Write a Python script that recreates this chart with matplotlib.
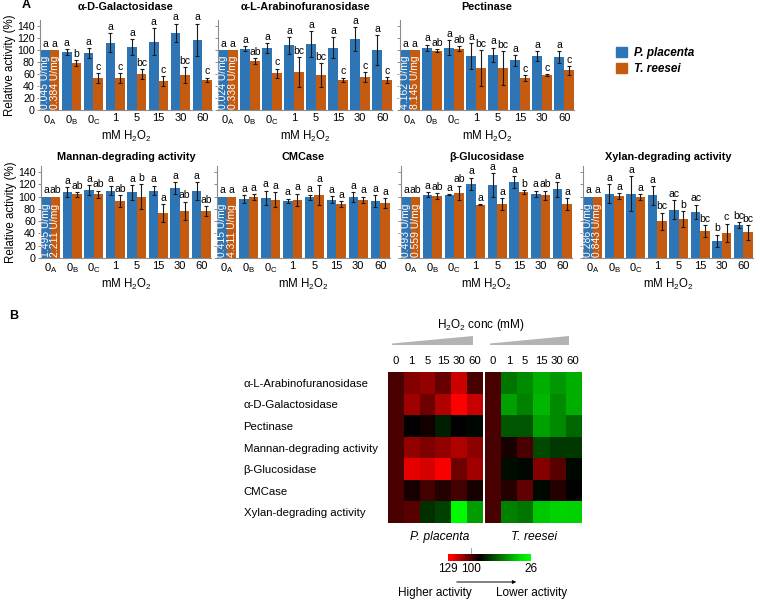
import numpy as np
import matplotlib
matplotlib.use('Agg')
import matplotlib.pyplot as plt
from matplotlib.colors import LinearSegmentedColormap, Normalize
from matplotlib.cm import ScalarMappable
from matplotlib.patches import Patch, Polygon

plt.rcParams['font.family'] = ['Liberation Sans', 'DejaVu Sans']
plt.rcParams['mathtext.fontset'] = 'custom'
plt.rcParams['mathtext.rm'] = 'Liberation Sans'
plt.rcParams['mathtext.it'] = 'Liberation Sans:italic'
plt.rcParams['mathtext.bf'] = 'Liberation Sans:bold'

# ---------------- data (relative activity, %) ----------------
doses = [r'0$_\mathrm{A}$', r'0$_\mathrm{B}$', r'0$_\mathrm{C}$', '1', '5', '15', '30', '60']

gal_pp = [100, 96, 95, 112, 105, 114, 129, 117]
gal_pp_err = [0, 5, 8, 16, 13, 22, 15, 27]
gal_tr = [100, 78, 53, 53, 60, 48, 58, 50]
gal_tr_err = [0, 5, 8, 8, 8, 8, 13, 4]
gal_pp_sig = ['a', 'a', 'a', 'a', 'a', 'a', 'a', 'a']
gal_tr_sig = ['a', 'b', 'c', 'c', 'bc', 'c', 'bc', 'c']

ara_pp = [100, 102, 103, 108, 110, 104, 118, 100]
ara_pp_err = [0, 4, 8, 14, 22, 17, 20, 25]
ara_tr = [100, 81, 61, 63, 58, 50, 55, 50]
ara_tr_err = [0, 5, 8, 25, 20, 4, 8, 5]
ara_pp_sig = ['a', 'a', 'a', 'a', 'a', 'a', 'a', 'a']
ara_tr_sig = ['a', 'ab', 'c', 'bc', 'bc', 'c', 'c', 'c']

pec_pp = [100, 104, 104, 90, 92, 83, 90, 88]
pec_pp_err = [0, 5, 12, 22, 12, 9, 8, 10]
pec_tr = [100, 99, 102, 70, 70, 53, 58, 66]
pec_tr_err = [0, 3, 4, 30, 28, 5, 2, 7]
pec_pp_sig = ['a', 'a', 'a', 'a', 'a', 'a', 'a', 'a']
pec_tr_sig = ['a', 'ab', 'ab', 'bc', 'bc', 'c', 'c', 'c']

man_pp = [100, 107, 111, 110, 107, 110, 114, 109]
man_pp_err = [0, 8, 8, 8, 12, 8, 10, 15]
man_tr = [100, 104, 104, 93, 100, 73, 77, 77]
man_tr_err = [0, 4, 6, 10, 20, 15, 15, 8]
man_pp_sig = ['a', 'a', 'a', 'a', 'a', 'a', 'a', 'a']
man_tr_sig = ['ab', 'ab', 'ab', 'ab', 'b', 'a', 'ab', 'ab']

cmc_pp = [100, 96, 98, 93, 99, 95, 99, 93]
cmc_pp_err = [0, 6, 12, 4, 4, 6, 8, 10]
cmc_tr = [100, 99, 95, 95, 103, 88, 95, 90]
cmc_tr_err = [0, 5, 12, 10, 16, 5, 5, 8]
cmc_pp_sig = ['a', 'a', 'a', 'a', 'a', 'a', 'a', 'a']
cmc_tr_sig = ['a', 'a', 'a', 'a', 'a', 'a', 'a', 'a']

glu_pp = [100, 103, 103, 121, 119, 124, 105, 112]
glu_pp_err = [0, 4, 1, 10, 20, 10, 5, 12]
glu_tr = [100, 101, 106, 87, 88, 108, 102, 88]
glu_tr_err = [0, 5, 12, 1, 10, 3, 8, 10]
glu_pp_sig = ['a', 'a', 'a', 'a', 'a', 'a', 'a', 'a']
glu_tr_sig = ['ab', 'ab', 'ab', 'a', 'a', 'b', 'ab', 'a']

xyl_pp = [100, 105, 105, 102, 79, 75, 28, 54]
xyl_pp_err = [0, 15, 28, 15, 15, 12, 10, 5]
xyl_tr = [100, 101, 99, 60, 63, 44, 41, 42]
xyl_tr_err = [0, 5, 5, 14, 13, 10, 15, 12]
xyl_pp_sig = ['a', 'a', 'a', 'a', 'ac', 'ac', 'b', 'bc']
xyl_tr_sig = ['a', 'a', 'a', 'bc', 'b', 'bc', 'c', 'bc']

# heatmap: 0 mM column shown as reference level
heat_zero = 100
heat_rows = ['α-L-Arabinofuranosidase', 'α-D-Galactosidase', 'Pectinase',
             'Mannan-degrading activity', 'β-Glucosidase', 'CMCase',
             'Xylan-degrading activity']
heat_cols = ['0', '1', '5', '15', '30', '60']

BLUE = '#2E75B6'
ORANGE = '#C55A11'
SPINE = '#8c8c8c'

W, H = 760, 600
fig = plt.figure(figsize=(7.6, 6), dpi=100)


def box(l, t, r, b):
    return [l / W, 1 - b / H, (r - l) / W, (b - t) / H]


overlay = fig.add_axes([0, 0, 1, 1])
overlay.set_xlim(0, W)
overlay.set_ylim(H, 0)
overlay.set_axis_off()


def bar_panel(rect, title, pp, pp_err, tr, tr_err, pp_sig, tr_sig, units, first, title_pad):
    ax = fig.add_axes(box(*rect))
    x = np.arange(len(doses))
    pp, pp_err, tr, tr_err = map(np.array, (pp, pp_err, tr, tr_err))
    w = 0.44
    ax.bar(x - w / 2, pp, w, color=BLUE)
    ax.bar(x + w / 2, tr, w, color=ORANGE)
    m = pp_err > 0
    ax.errorbar(x[m] - w / 2, pp[m], yerr=pp_err[m], fmt='none', ecolor='#1a1a1a',
                elinewidth=0.8, capsize=1.6, capthick=0.8)
    m = tr_err > 0
    ax.errorbar(x[m] + w / 2, tr[m], yerr=tr_err[m], fmt='none', ecolor='#1a1a1a',
                elinewidth=0.8, capsize=1.6, capthick=0.8)
    for i in range(len(x)):
        ax.text(x[i] - w / 2, pp[i] + pp_err[i] + 2, pp_sig[i], ha='center', va='bottom', fontsize=7.5)
        ax.text(x[i] + w / 2, tr[i] + tr_err[i] + 2, tr_sig[i], ha='center', va='bottom', fontsize=7.5)
    ax.text(x[0] - w / 2, 2, units[0], rotation=90, color='white', ha='center', va='bottom', fontsize=7.5)
    ax.text(x[0] + w / 2, 2, units[1], rotation=90, color='white', ha='center', va='bottom', fontsize=7.5)

    ax.set_xlim(-0.45, len(x) - 0.55)
    ax.set_ylim(0, 150)
    ax.set_yticks(range(0, 141, 20))
    ax.set_xticks(x)
    ax.set_xticklabels(doses)
    ax.tick_params(axis='x', length=0, pad=2.5, labelsize=8)
    ax.tick_params(axis='y', length=2.5, width=0.7, color=SPINE, labelsize=7.7, pad=1.2,
                   labelleft=first)
    for s in ['top', 'right']:
        ax.spines[s].set_visible(False)
    for s in ['left', 'bottom']:
        ax.spines[s].set_color(SPINE)
        ax.spines[s].set_linewidth(0.8)
    ax.set_xlabel('mM H$_2$O$_2$', fontsize=8.3, labelpad=1)
    if first:
        ax.set_ylabel('Relative activity (%)', fontsize=8.3, labelpad=0.8)
    ax.set_title(title, fontsize=7.8, fontweight='bold', pad=title_pad)
    return ax


bar_panel((40, 20, 212, 110), 'α-D-Galactosidase', gal_pp, gal_pp_err, gal_tr, gal_tr_err,
          gal_pp_sig, gal_tr_sig, ('0.045 U/mg', '0.384 U/mg'), True, 7)
bar_panel((218, 20, 392, 110), 'α-L-Arabinofuranosidase', ara_pp, ara_pp_err, ara_tr, ara_tr_err,
          ara_pp_sig, ara_tr_sig, ('0.024 U/mg', '0.338 U/mg'), False, 7)
bar_panel((400, 20, 574, 110), 'Pectinase', pec_pp, pec_pp_err, pec_tr, pec_tr_err,
          pec_pp_sig, pec_tr_sig, ('4.162 U/mg', '8.145 U/mg'), False, 7)
bar_panel((41, 166, 211, 258), 'Mannan-degrading activity', man_pp, man_pp_err, man_tr, man_tr_err,
          man_pp_sig, man_tr_sig, ('1.495 U/mg', '2.211 U/mg'), True, 4)
bar_panel((217, 166, 390, 258), 'CMCase', cmc_pp, cmc_pp_err, cmc_tr, cmc_tr_err,
          cmc_pp_sig, cmc_tr_sig, ('0.415 U/mg', '4.311 U/mg'), False, 4)
bar_panel((401, 166, 572, 258), 'β-Glucosidase', glu_pp, glu_pp_err, glu_tr, glu_tr_err,
          glu_pp_sig, glu_tr_sig, ('0.493 U/mg', '0.559 U/mg'), False, 4)
bar_panel((583, 166, 753, 258), 'Xylan-degrading activity', xyl_pp, xyl_pp_err, xyl_tr, xyl_tr_err,
          xyl_pp_sig, xyl_tr_sig, ('0.286 U/mg', '0.843 U/mg'), False, 4)

fig.legend(handles=[Patch(color=BLUE, label='P. placenta'), Patch(color=ORANGE, label='T. reesei')],
           loc='upper left', bbox_to_anchor=(616 / W, 1 - 47 / H), frameon=False,
           prop=dict(style='italic', weight='bold', size=8.5),
           handlelength=0.9, handleheight=0.9, handletextpad=0.6, labelspacing=0.35,
           borderaxespad=0, borderpad=0)

# ---------------- panel B heatmap ----------------
pp_sets = [ara_pp, gal_pp, pec_pp, man_pp, glu_pp, cmc_pp, xyl_pp]
tr_sets = [ara_tr, gal_tr, pec_tr, man_tr, glu_tr, cmc_tr, xyl_tr]
heat_pp = np.array([[heat_zero] + v[3:] for v in pp_sets])
heat_tr = np.array([[heat_zero] + v[3:] for v in tr_sets])

vmin, vmax = 26, 129
cmap = LinearSegmentedColormap.from_list(
    'rg', [(0, '#00ff00'), (0.12, '#00e000'), (0.62, '#000000'), (0.96, '#ff0000'), (1, '#ff0000')])
norm = Normalize(vmin=vmin, vmax=vmax)

for rect, data, labels in [((388, 372, 483, 523), heat_pp, True),
                           ((485, 372, 581, 523), heat_tr, False)]:
    hx = fig.add_axes(box(*rect))
    hx.imshow(data, cmap=cmap, norm=norm, aspect='auto', interpolation='nearest')
    hx.xaxis.tick_top()
    hx.set_xticks(range(len(heat_cols)))
    hx.set_xticklabels(heat_cols)
    hx.tick_params(axis='x', length=0, pad=4, labelsize=8.2)
    hx.set_yticks(range(len(heat_rows)))
    if labels:
        hx.set_yticklabels(heat_rows, ha='left')
        hx.tick_params(axis='y', length=0, pad=104, labelsize=8.2)
    else:
        hx.set_yticklabels([])
        hx.tick_params(axis='y', length=0)
    for s in hx.spines.values():
        s.set_visible(False)

# wedges and labels
overlay.add_patch(Polygon([(392, 345), (473, 345), (473, 336), (392, 343.5)], closed=True,
                          facecolor='#b3b3b3', edgecolor='none'))
overlay.add_patch(Polygon([(490, 345), (569, 345), (569, 336), (490, 343.5)], closed=True,
                          facecolor='#b3b3b3', edgecolor='none'))
overlay.text(481, 325, 'H$_2$O$_2$ conc (mM)', ha='center', va='center', fontsize=8.5)
overlay.text(440, 537, 'P. placenta', ha='center', va='center', fontsize=8.7, style='italic')
overlay.text(534, 537, 'T. reesei', ha='center', va='center', fontsize=8.7, style='italic')
overlay.text(26, 5, 'A', ha='center', va='center', fontsize=9, fontweight='bold')
overlay.text(14, 316, 'B', ha='center', va='center', fontsize=9, fontweight='bold')

cax = fig.add_axes(box(448, 554, 531, 561))
cb = fig.colorbar(ScalarMappable(norm=norm, cmap=cmap), cax=cax, orientation='horizontal')
cax.invert_xaxis()
cb.set_ticks([129, 100, 26])
cb.outline.set_visible(False)
cax.tick_params(length=0, labelsize=8.5, pad=1.5)
cax.plot([100, 100], [1.2, 1.8], transform=cax.get_xaxis_transform(), clip_on=False,
         color='#999999', lw=0.6)

overlay.annotate('', xy=(519, 582), xytext=(454, 582),
                 arrowprops=dict(arrowstyle='-|>', color='black', lw=0.7, mutation_scale=5))
overlay.text(435, 593, 'Higher activity', ha='center', va='center', fontsize=8.5)
overlay.text(532, 593, 'Lower activity', ha='center', va='center', fontsize=8.5)

fig.savefig('out.png', dpi=100)
